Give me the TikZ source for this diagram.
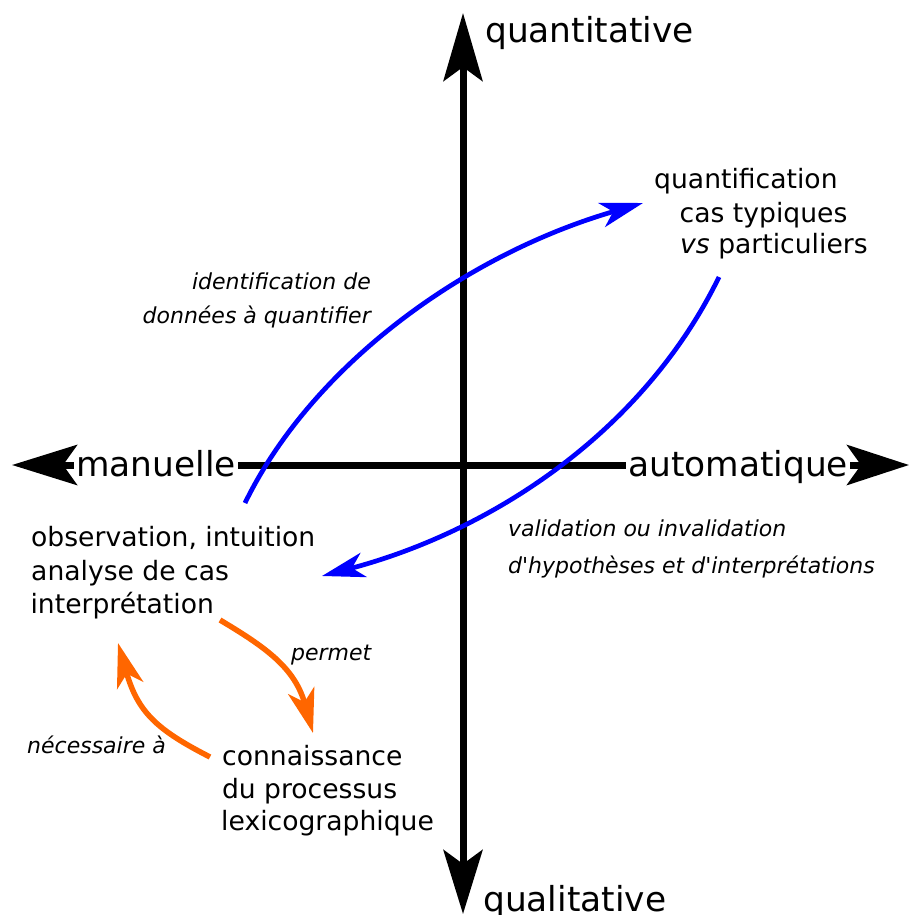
\documentclass[tikz,border=0pt]{standalone}
\usepackage{fontspec}
\setmainfont{DejaVu Sans}
\usetikzlibrary{arrows.meta}
\definecolor{arrowblue}{RGB}{0,0,255}
\definecolor{arroworange}{RGB}{255,102,0}
\begin{document}
\begin{tikzpicture}[x=1pt,y=-1pt,
  axis/.style={line width=7pt, draw=black},
  axislabel/.style={font=\fontsize{34.4}{41}\selectfont, inner xsep=2pt, inner ysep=0pt, anchor=base west},
  boxtext/.style={font=\fontsize{26.6}{32}\selectfont, inner sep=0pt, anchor=base west},
  note/.style={font=\fontsize{22}{26}\selectfont\itshape, inner sep=0pt},
  bluearrow/.style={draw=arrowblue, line width=4.7pt, -{Stealth[length=43pt,width=25pt,inset=12pt]}},
  orangearrow/.style={draw=arroworange, line width=5.5pt, -{Stealth[length=44pt,width=27pt,inset=12pt]}},
]
\useasboundingbox (0,0) rectangle (909,915);

% axis end points
\coordinate (west) at (12,465);
\coordinate (east) at (909,465);
\coordinate (north) at (463,13);
\coordinate (south) at (463,914);

% axis labels
\node[axislabel] (manuelle) at (74,476) {manuelle};
\node[axislabel] (automatique) at (626,476) {automatique};
\node[axislabel, inner xsep=0pt] (quantitative) at (485,43) {quantitative};
\node[axislabel, inner xsep=0pt] (qualitative) at (483,911) {qualitative};

% axes
\draw[axis, {Stealth[length=65pt,width=40pt,inset=14pt]}-] (west) -- (west -| manuelle.west);
\draw[axis] (west -| manuelle.east) -- (west -| automatique.west);
\draw[axis, -{Stealth[length=62pt,width=40pt,inset=14pt]}] (west -| automatique.east) -- (east);
\draw[axis, {Stealth[length=64pt,width=39pt,inset=14pt]}-{Stealth[length=68pt,width=39pt,inset=14pt]}] (south) -- (north);

% text blocks
\node[boxtext] (q1) at (654,188.5) {quantification};
\node[boxtext] (q2) at (679.5,222) {cas typiques};
\node[boxtext] (q3) at (680,253.5) {\textit{vs} particuliers};

\node[boxtext] (o1) at (31,546.7) {observation, intuition};
\node[boxtext] (o2) at (31,580.5) {analyse de cas};
\node[boxtext] (o3) at (30.4,613.3) {interprétation};

\node[boxtext] (c1) at (222,765) {connaissance};
\node[boxtext] (c2) at (221.8,798.3) {du processus};
\node[boxtext] (c3) at (221,830) {lexicographique};

% italic notes
\node[note, anchor=base east] (n1a) at (371,289.3) {identification de};
\node[note, anchor=base east] (n1b) at (371,323.3) {données à quantifier};
\node[note, anchor=base west] (n2a) at (508,536.7) {validation ou invalidation};
\node[note, anchor=base west] (n2b) at (508,573.3) {d\textquotesingle hypothèses et d\textquotesingle interprétations};
\node[note, anchor=base west] (permet) at (291,660) {permet};
\node[note, anchor=base west] (necess) at (27,753.3) {nécessaire à};

% connector end points
\coordinate (b1s) at (245,503);
\coordinate (b1e) at (643,203);
\coordinate (b2s) at (719,277);
\coordinate (b2e) at (322,576);
\coordinate (r1s) at (220,620);
\coordinate (r1e) at (313,733);
\coordinate (r2s) at (210,757);
\coordinate (r2e) at (118,643);

% blue connectors
\draw[bluearrow] (b1s) .. controls (310.7,368.2) and (461.4,255.5) .. (b1e);
\draw[bluearrow] (b2s) .. controls (644.5,429.8) and (495,530.2) .. (b2e);

% orange connectors
\draw[orangearrow] (r1s) .. controls (267,648) and (295,668.3) .. (r1e);
\draw[orangearrow] (r2s) .. controls (156.6,729.7) and (137.8,712.2) .. (r2e);
\end{tikzpicture}
\end{document}
